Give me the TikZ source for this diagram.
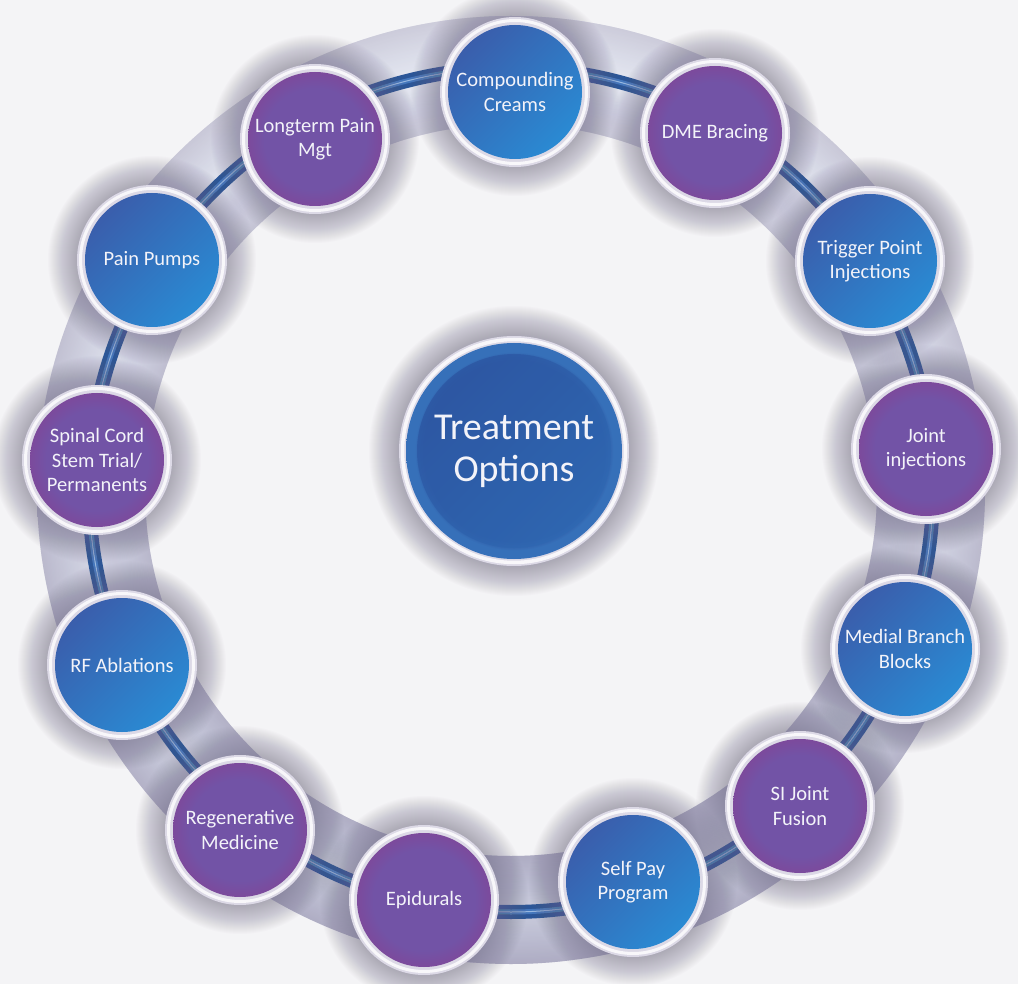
\documentclass[tikz,border=0pt]{standalone}
\usepackage{fontspec}
\setmainfont{Carlito}
\definecolor{bg}{HTML}{F4F4F6}
\definecolor{bandE}{HTML}{B4B3C9}
\definecolor{bandIn}{HTML}{CACDE0}
\definecolor{bandHi}{HTML}{DFE3EF}
\definecolor{bandMidB}{HTML}{CDD0E1}
\definecolor{bandEB}{HTML}{B8B7CC}
\definecolor{bandshadow}{HTML}{9692AE}
\definecolor{glowc}{HTML}{78738F}
\definecolor{rimc}{HTML}{DCD9E6}
\definecolor{blueA}{HTML}{3A5EAC}
\definecolor{blueB}{HTML}{2A8AD3}
\definecolor{purpA}{HTML}{7253A6}
\definecolor{purpB}{HTML}{7C4A9C}
\definecolor{centOut}{HTML}{3670B9}
\definecolor{centA}{HTML}{2D56A2}
\definecolor{centB}{HTML}{2F6AB4}
\definecolor{lineA}{HTML}{2B5698}
\definecolor{lineB}{HTML}{4477BC}
\definecolor{lineC}{HTML}{98B8E0}
\definecolor{txt}{HTML}{F3F3F9}
\pgfdeclareradialshading{bandshade}{\pgfpoint{0bp}{0bp}}{%
color(0bp)=(bandE); color(19.3bp)=(bandE); color(20.8bp)=(bandIn);
color(22.15bp)=(bandHi); color(23.5bp)=(bandMidB); color(25bp)=(bandEB); color(50bp)=(bandEB)}
\pgfdeclareradialshading{purpshade}{\pgfpoint{0bp}{0bp}}{%
color(0bp)=(purpA); color(19bp)=(purpA); color(25bp)=(purpB); color(50bp)=(purpB)}
\pgfdeclareradialshading{centshade}{\pgfpoint{0bp}{0bp}}{%
color(0bp)=(centA); color(21bp)=(centA); color(23bp)=(centOut); color(50bp)=(centOut)}
\begin{document}
\begin{tikzpicture}[x=1pt,y=1pt,
  disk/.style={circle, minimum size=134pt, inner sep=0pt, text=txt,
    font=\fontsize{20.5}{24.5}\selectfont, align=center},
  bluedisk/.style={disk, top color=blueA, bottom color=blueB, shading angle=45},
  purpledisk/.style={disk, shading=purpshade},
  centerdisk/.style={circle, minimum size=216pt, inner sep=0pt, text=txt,
    font=\fontsize{38}{42}\selectfont, align=center, shading=centshade,
    path picture={\shade[top color=centA, bottom color=centB, shading angle=45, opacity=.85]
      (path picture bounding box.center) circle (97);}},
  ringline/.style={line width=14pt, color=lineA}
]
\fill[bg] (0,0) rectangle (1018,-984);
\useasboundingbox (0,0) rectangle (1018,-984);
\coordinate (ringc) at (511,-490);
% ring band
\shade[shading=bandshade, even odd rule] (ringc) circle (474) (ringc) circle (366);
\shade[even odd rule, top color=white, bottom color=bandshadow, opacity=.3]
  (ringc) circle (474) (ringc) circle (366);
% connecting line along the ring
\draw[ringline] (ringc) circle (422);
\draw[line width=5pt, lineB] (ringc) circle (422);
\draw[line width=1pt, lineC] (ringc) circle (422);
% positions
\coordinate (p1) at (515,-92);
\coordinate (p2) at (715,-133);
\coordinate (p3) at (870,-261);
\coordinate (p4) at (926,-449);
\coordinate (p5) at (905,-649);
\coordinate (p6) at (800,-806);
\coordinate (p7) at (633,-882);
\coordinate (p8) at (424,-900);
\coordinate (p9) at (240,-830);
\coordinate (p10) at (122,-665);
\coordinate (p11) at (97,-460);
\coordinate (p12) at (152,-260);
\coordinate (p13) at (315,-139);
\coordinate (pc) at (514,-451);
% glows
\foreach \c in {p1,p2,p3,p4,p5,p6,p7,p8,p9,p10,p11,p12,p13}{
  \foreach \r in {76,77,...,104}{\fill[glowc, opacity=.024] (\c) circle (\r);}
}
\foreach \r in {115,116,...,145}{\fill[glowc, opacity=.024] (pc) circle (\r);}
% rims
\foreach \c in {p1,p2,p3,p4,p5,p6,p7,p8,p9,p10,p11,p12,p13}{
  \fill[rimc] (\c) circle (75);
  \draw[white, opacity=.8, line width=3pt] (\c) circle (71.5);
}
\fill[rimc] (pc) circle (115);
\draw[white, opacity=.8, line width=3.5pt] (pc) circle (111.5);
% nodes
\node[bluedisk]   (n1)  at (p1)  {Compounding\\Creams};
\node[purpledisk] (n2)  at (p2)  {DME Bracing};
\node[bluedisk]   (n3)  at (p3)  {Trigger Point\\Injections};
\node[purpledisk] (n4)  at (p4)  {Joint\\injections};
\node[bluedisk]   (n5)  at (p5)  {Medial Branch\\Blocks};
\node[purpledisk] (n6)  at (p6)  {SI Joint\\Fusion};
\node[bluedisk]   (n7)  at (p7)  {Self Pay\\Program};
\node[purpledisk] (n8)  at (p8)  {Epidurals};
\node[purpledisk] (n9)  at (p9)  {Regenerative\\Medicine};
\node[bluedisk]   (n10) at (p10) {RF Ablations};
\node[purpledisk] (n11) at (p11) {Spinal Cord\\Stem Trial/\\Permanents};
\node[bluedisk]   (n12) at (p12) {Pain Pumps};
\node[purpledisk] (n13) at (p13) {Longterm Pain\\Mgt};
\node[centerdisk] (center) at (pc) {Treatment\\Options};
\end{tikzpicture}
\end{document}
